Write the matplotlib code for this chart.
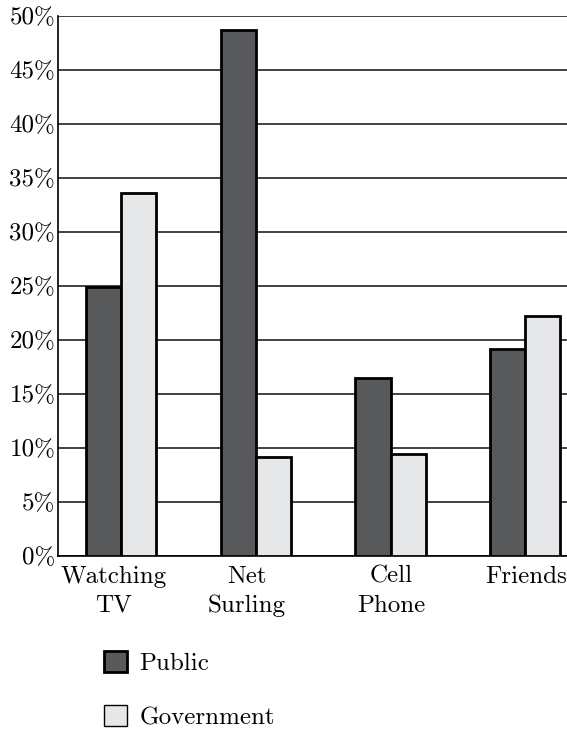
import numpy as np
import matplotlib
matplotlib.use('Agg')
import matplotlib.pyplot as plt
from matplotlib.patches import Patch

plt.rcParams['font.family'] = ['cmr10', 'DejaVu Serif']
plt.rcParams['mathtext.fontset'] = 'cm'
plt.rcParams['axes.formatter.use_mathtext'] = True

categories = ['Watching\nTV', 'Net\nSurling', 'Cell\nPhone', 'Friends']
public = [24.9, 48.7, 16.5, 19.2]
government = [33.6, 9.2, 9.4, 22.2]
yticks = [0, 5, 10, 15, 20, 25, 30, 35, 40, 45, 50]

dark = '#58595b'
light = '#e6e7e8'

fig = plt.figure(figsize=(5.67, 7.29), dpi=100)
ax = fig.add_axes([0.1023, 0.2373, 0.8977, 0.7407])

x = np.arange(len(categories))
w = 0.26
ax.bar(x - w/2, public, w, color=dark, edgecolor='black', linewidth=2, zorder=3)
ax.bar(x + w/2, government, w, color=light, edgecolor='black', linewidth=2, zorder=3)

ax.set_xlim(-0.468, 3.31)
ax.set_ylim(0, 50)
ax.set_yticks(yticks)
ax.set_yticklabels(['%d%%' % t for t in yticks], fontsize=18)
# labels sit a little off the group centres in the original
label_shift = np.array([-0.055, -0.065, 0.005, 0.01])
ax.set_xticks(x + label_shift)
ax.set_xticklabels(categories, fontsize=18, linespacing=1.4)
ax.tick_params(axis='y', length=0, pad=2)
ax.tick_params(axis='x', length=0, pad=7)
ax.yaxis.grid(True, color='#222222', linewidth=1.2, zorder=0)
ax.set_axisbelow(True)

for s in ['top', 'right']:
    ax.spines[s].set_visible(False)
ax.spines['left'].set_linewidth(1.2)
ax.spines['bottom'].set_linewidth(1.2)

handles = [Patch(facecolor=dark, edgecolor='black', linewidth=2, label='Public'),
           Patch(facecolor=light, edgecolor='black', linewidth=1, label='Government')]
fig.legend(handles=handles, loc='upper left', bbox_to_anchor=(0.183, 0.107),
           frameon=False, fontsize=18, handlelength=0.92, handleheight=0.92,
           labelspacing=1.2, borderpad=0, borderaxespad=0, handletextpad=0.5)

fig.savefig('out.png', dpi=100)
